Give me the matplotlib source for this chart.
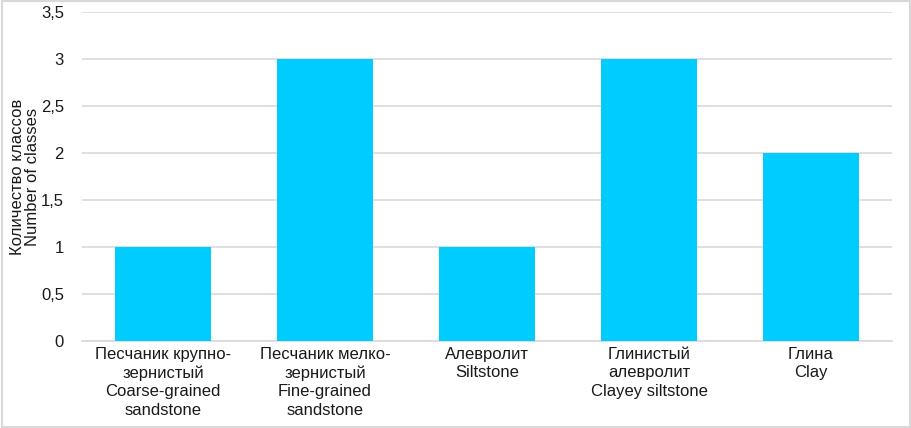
import matplotlib.pyplot as plt
from matplotlib.ticker import FuncFormatter
from matplotlib.patches import Rectangle

plt.rcParams['font.family'] = ['Liberation Sans', 'DejaVu Sans']

categories = ['Песчаник крупно-\nзернистый\nCoarse-grained\nsandstone',
              'Песчаник мелко-\nзернистый\nFine-grained\nsandstone',
              'Алевролит\nSiltstone',
              'Глинистый\nалевролит\nClayey siltstone',
              'Глина\nClay']
values = [1, 3, 1, 3, 2]

fig = plt.figure(figsize=(9.12, 4.28), dpi=100)
ax = fig.add_axes([82 / 912, 1 - 341 / 428, 810 / 912, 329 / 428])

x = range(len(values))
ax.bar(x, values, width=0.59, color='#00CCFF', zorder=3)

ax.set_xlim(-0.5, len(values) - 0.5)
ax.set_ylim(0, 3.5)
ax.set_yticks([0, 0.5, 1, 1.5, 2, 2.5, 3, 3.5])
ax.yaxis.set_major_formatter(FuncFormatter(lambda v, p: ('%g' % v).replace('.', ',')))
ax.grid(axis='y', color='#d9d9d9', linewidth=1.2, zorder=0)
ax.set_xticks(list(x))
ax.set_xticklabels(categories, fontsize=12, linespacing=1.3)
for s in ['top', 'right', 'left']:
    ax.spines[s].set_visible(False)
ax.spines['bottom'].set_color('#d9d9d9')
ax.spines['bottom'].set_linewidth(1.2)
ax.tick_params(axis='both', length=0, labelsize=12, colors='#1a1a1a')
ax.tick_params(axis='y', pad=13)
ax.tick_params(axis='x', pad=4)
ax.set_ylabel('Количество классов\nNumber of classes', fontsize=12, linespacing=0.95,
              color='#1a1a1a')
ax.yaxis.set_label_coords(-0.052, 0.5)

fig.patches.append(Rectangle((0.002, 0.003), 0.996, 0.994, transform=fig.transFigure,
                             fill=False, edgecolor='#d9d9d9', linewidth=1.5))

fig.savefig('out.png', dpi=100)
